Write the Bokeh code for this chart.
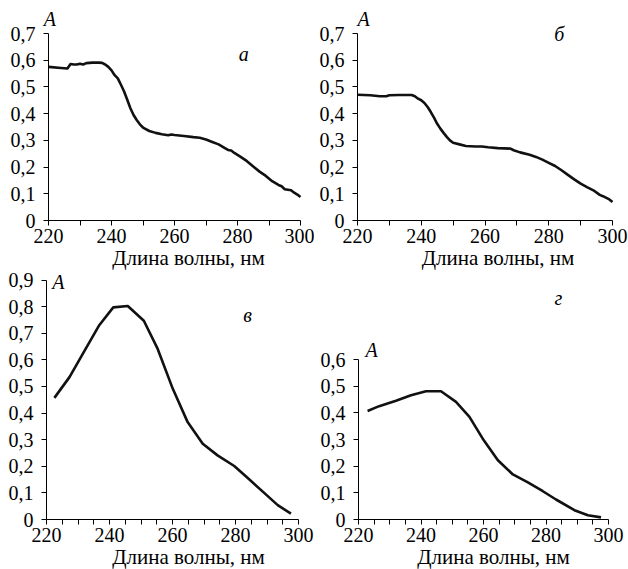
from bokeh.plotting import figure
from bokeh.models import Range1d, FixedTicker, CustomJSTickFormatter, Label, LinearAxis
from bokeh.layouts import column, row
from bokeh.embed import file_html
from bokeh.resources import INLINE

# ---- data ----
wl_a = [220, 224, 226, 227, 228, 229, 230, 231, 232, 234, 236, 237, 238, 239, 240, 241, 242, 243, 244, 245,
        246, 247, 248, 249, 250, 252, 254, 256, 258, 259, 260, 263, 266, 268, 270, 272, 274, 276, 277, 278,
        279, 281, 283, 285, 287, 289, 291, 293, 294, 295, 297, 298, 299, 300]
abs_a = [0.575, 0.571, 0.569, 0.586, 0.584, 0.584, 0.587, 0.584, 0.589, 0.591, 0.591, 0.590, 0.584, 0.575,
         0.562, 0.544, 0.532, 0.508, 0.483, 0.452, 0.420, 0.395, 0.376, 0.360, 0.348, 0.335, 0.328, 0.323,
         0.319, 0.322, 0.320, 0.316, 0.312, 0.310, 0.303, 0.294, 0.285, 0.271, 0.264, 0.262, 0.253, 0.238,
         0.222, 0.202, 0.183, 0.167, 0.147, 0.133, 0.128, 0.117, 0.113, 0.104, 0.097, 0.088]

wl_b = [220, 224, 227, 229, 230, 233, 237, 238, 239, 240, 241, 242, 243, 244, 245, 246, 247, 248, 249, 250,
        252, 254, 257, 259, 261, 264, 266, 268, 269, 271, 274, 276, 278, 280, 282, 284, 286, 288, 290, 292,
        294, 296, 297, 299, 300]
abs_b = [0.471, 0.469, 0.465, 0.465, 0.469, 0.470, 0.470, 0.465, 0.456, 0.450, 0.440, 0.425, 0.406, 0.385,
         0.362, 0.344, 0.328, 0.313, 0.300, 0.291, 0.285, 0.279, 0.277, 0.277, 0.274, 0.271, 0.270, 0.269,
         0.263, 0.255, 0.246, 0.238, 0.228, 0.216, 0.204, 0.188, 0.171, 0.154, 0.138, 0.125, 0.113, 0.096,
         0.091, 0.079, 0.069]

wl_c = [222.5, 227.3, 232.1, 236.8, 241.2, 245.8, 250.9, 255.3, 260.1, 264.8, 269.6, 274.3, 279.6, 283.8,
        289.1, 293.4, 297.6]
abs_c = [0.457, 0.535, 0.635, 0.731, 0.797, 0.802, 0.747, 0.641, 0.491, 0.366, 0.285, 0.241, 0.201, 0.157,
         0.100, 0.054, 0.022]

wl_d = [222.9, 226.6, 232.0, 236.8, 241.6, 246.4, 251.2, 255.5, 259.7, 264.6, 269.4, 274.2, 279.0, 283.2,
        289.1, 293.4, 297.6]
abs_d = [0.407, 0.425, 0.445, 0.466, 0.481, 0.481, 0.441, 0.385, 0.304, 0.222, 0.169, 0.139, 0.106, 0.075,
         0.035, 0.016, 0.008]

x_major = [220, 240, 260, 280, 300]
x_minor_10 = [230, 250, 270, 290]
x_minor_5 = [225, 230, 235, 245, 250, 255, 265, 270, 275, 285, 290, 295]
panel_letters = ["а", "б", "в", "г"]
y_label = "A"
x_title = "Длина волны, нм"

FONT = "Liberation Serif"
FS = "20px"
FS_TITLE = "21px"
X0, X1 = 220, 300


def make(x, y, ymax, minor, letter, letter_xy, a_xy, title_x, fig_w, fig_h, px220, px300, py0, pytop):
    # map the axis extents onto the given pixel positions inside a border-less figure
    sx = (px300 - px220) / (X1 - X0)
    sy = (py0 - pytop) / ymax
    xr = Range1d(X0 - px220 / sx, X1 + (fig_w - px300) / sx)
    yr = Range1d(-(fig_h - py0) / sy, py0 / sy)
    p = figure(width=fig_w, height=fig_h, min_border_left=0, min_border_right=0,
               min_border_top=0, min_border_bottom=0, x_range=xr, y_range=yr,
               output_backend="svg", toolbar_location=None)
    p.line(x, y, line_width=2.6, line_color="#111111", line_join="round")
    p.xgrid.visible = False
    p.ygrid.visible = False
    p.outline_line_color = None
    p.background_fill_color = "white"
    p.border_fill_color = "white"

    ax = p.xaxis[0]
    ax.fixed_location = 0
    ax.bounds = (X0, X1)
    ax.ticker = FixedTicker(ticks=x_major, minor_ticks=minor)
    ax.major_tick_out = 5
    ax.major_tick_in = 0
    ax.minor_tick_out = 5
    ax.minor_tick_in = 0
    ax.major_label_standoff = 3

    ay = p.yaxis[0]
    ay.fixed_location = X0
    ay.bounds = (0, ymax)
    yt = [round(i * 0.1, 1) for i in range(int(round(ymax * 10)) + 1)]
    ay.ticker = FixedTicker(ticks=yt, minor_ticks=[])
    ay.formatter = CustomJSTickFormatter(
        code="return tick == 0 ? '0' : tick.toFixed(1).replace('.', ',');")
    ay.major_tick_out = 5
    ay.major_tick_in = 0
    ay.minor_tick_out = 0
    ay.minor_tick_in = 0
    ay.major_label_standoff = 8

    for a in (ax, ay):
        a.axis_line_color = "black"
        a.axis_line_width = 1
        a.major_tick_line_color = "black"
        a.minor_tick_line_color = "black"
        a.major_label_text_font = FONT
        a.major_label_text_font_size = FS
        a.major_label_text_color = "black"

    # x-axis title: carried by a bare axis whose span is centred where the title sits
    half = min(title_x - X0, X1 - title_x)
    tax = LinearAxis(fixed_location=0, bounds=(title_x - half, title_x + half),
                     ticker=FixedTicker(ticks=[], minor_ticks=[]),
                     axis_line_color=None, major_tick_line_color=None, minor_tick_line_color=None,
                     major_tick_out=0, major_tick_in=0, minor_tick_out=0, minor_tick_in=0,
                     major_label_standoff=0, axis_label=x_title, axis_label_standoff=25,
                     axis_label_text_font=FONT, axis_label_text_font_size=FS_TITLE,
                     axis_label_text_font_style="normal", axis_label_text_color="black")
    p.add_layout(tax, "below")

    p.add_layout(Label(x=letter_xy[0], y=letter_xy[1], text=letter, text_font=FONT,
                       text_font_size=FS, text_font_style="italic", text_align="center",
                       text_baseline="middle", text_color="black"))
    p.add_layout(Label(x=a_xy[0], y=a_xy[1], text=y_label, text_font=FONT,
                       text_font_size=FS, text_font_style="italic", text_align="center",
                       text_baseline="middle", text_color="black"))
    return p


pa = make(wl_a, abs_a, 0.7, x_minor_10, panel_letters[0], (282, 0.625), (220.4, 0.753), 264.5,
          314, 270, 48, 300, 220, 33)
pb = make(wl_b, abs_b, 0.7, x_minor_10, panel_letters[1], (283.3, 0.70), (221.9, 0.753), 264,
          314, 270, 43, 298, 220, 33)
pc = make(wl_c, abs_c, 0.9, x_minor_5, panel_letters[2], (283.8, 0.767), (223.8, 0.891), 265,
          314, 299, 46, 298, 249, 9.5)
pd = make(wl_d, abs_d, 0.6, x_minor_5, panel_letters[3], (284, 0.829), (224.2, 0.637), 263.2,
          314, 299, 44, 294, 249, 89)

layout = column(row(pa, pb), row(pc, pd))
open("out.html", "w").write(file_html(layout, INLINE))
